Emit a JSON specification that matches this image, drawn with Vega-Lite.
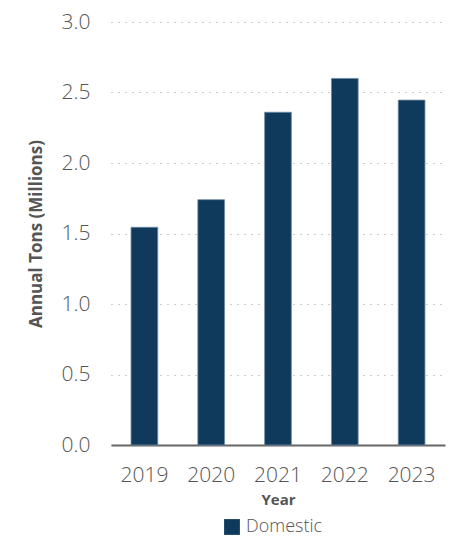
{
  "$schema": "https://vega.github.io/schema/vega-lite/v6.json",
  "autosize": "none",
  "width": 334,
  "height": 423,
  "padding": {"left": 111, "top": 22, "right": 10, "bottom": 92},
  "background": "white",
  "data": {
    "values": [
      {"Year": "2019", "Tons": 1.544, "Type": "Domestic"},
      {"Year": "2020", "Tons": 1.74, "Type": "Domestic"},
      {"Year": "2021", "Tons": 2.36, "Type": "Domestic"},
      {"Year": "2022", "Tons": 2.60, "Type": "Domestic"},
      {"Year": "2023", "Tons": 2.446, "Type": "Domestic"}
    ]
  },
  "config": {
    "view": {"stroke": null},
    "font": "Open Sans"
  },
  "mark": {"type": "bar", "stroke": "#6f8aa3", "strokeWidth": 0.8},
  "encoding": {
    "x": {
      "field": "Year",
      "type": "ordinal",
      "scale": {"paddingInner": 0.6, "paddingOuter": 0.3},
      "axis": {
        "title": "Year",
        "labelAngle": 0,
        "labelFont": "Open Sans",
        "labelFontWeight": 300,
        "labelFontSize": 21,
        "labelColor": "#555555",
        "labelPadding": 19,
        "ticks": false,
        "domainColor": "#666666",
        "domainWidth": 2,
        "titleFont": "Open Sans",
        "titleFontSize": 15,
        "titleFontWeight": "bold",
        "titleColor": "#555555",
        "titlePadding": 7
      }
    },
    "y": {
      "field": "Tons",
      "type": "quantitative",
      "scale": {"domain": [0, 3]},
      "axis": {
        "title": "Annual Tons (Millions)",
        "values": [0, 0.5, 1, 1.5, 2, 2.5, 3],
        "format": ".1f",
        "labelFont": "Open Sans",
        "labelFontWeight": 300,
        "labelFontSize": 21,
        "labelColor": "#555555",
        "labelPadding": 21,
        "ticks": false,
        "domain": false,
        "grid": true,
        "gridColor": "#999999",
        "gridDash": [1, 6],
        "gridWidth": 1.2,
        "titleFont": "Open Sans",
        "titleFontSize": 17,
        "titleFontWeight": "bold",
        "titleColor": "#555555",
        "titlePadding": 16
      }
    },
    "color": {
      "field": "Type",
      "type": "nominal",
      "scale": {"range": ["#0f3a5c"]},
      "legend": {
        "orient": "none",
        "legendX": 112,
        "legendY": 496,
        "padding": 0,
        "title": null,
        "symbolType": "square",
        "symbolSize": 250,
        "symbolStrokeWidth": 0,
        "labelFont": "Open Sans",
        "labelFontWeight": 300,
        "labelFontSize": 18,
        "labelColor": "#555555",
        "labelOffset": 5
      }
    }
  }
}
